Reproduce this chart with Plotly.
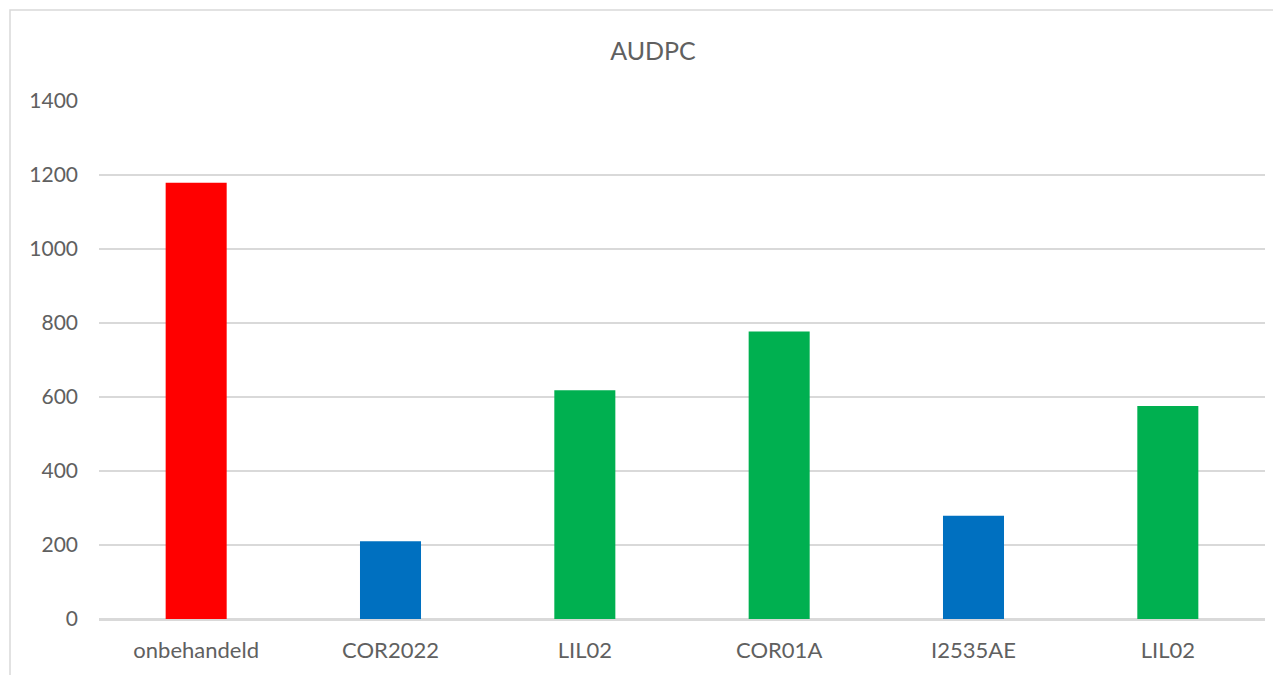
import plotly.graph_objects as go

categories = ["onbehandeld", "COR2022", "LIL02", "COR01A", "I2535AE", "LIL02"]
audpc_values = [1179, 210, 618, 777, 279, 576]
y_tick_values = [0, 200, 400, 600, 800, 1000, 1200, 1400]

bar_colors = ["#FF0000", "#0070C0", "#00B050", "#00B050", "#0070C0", "#00B050"]

positions = list(range(len(categories)))

# The page body adds an 8px offset; compensate so the picture lines up.
OFF = 8
W, H = 1281, 675
plot_left, plot_right = 99 - OFF, 1265 - OFF
plot_top, plot_bottom = 101 - OFF, 619.5 - OFF

fig = go.Figure(
    go.Bar(
        x=positions,
        y=audpc_values,
        marker=dict(color=bar_colors, line=dict(width=0)),
        hoverinfo="x+y",
    )
)

text_color = "#606060"
grid_color = "#D9D9D9"

plot_w = plot_right - plot_left
plot_h = plot_bottom - plot_top

fig.update_layout(
    width=W,
    height=H,
    paper_bgcolor="white",
    plot_bgcolor="white",
    margin=dict(l=plot_left, r=W - plot_right, t=plot_top, b=H - plot_bottom, pad=0),
    bargap=0.686,
    showlegend=False,
    font=dict(family="Lato", color=text_color, size=21),
    title=dict(
        text="AUDPC",
        x=(653 - OFF) / W,
        xanchor="center",
        y=1 - (51 - OFF) / H,
        yanchor="middle",
        font=dict(family="Lato", size=25, color=text_color),
    ),
    xaxis=dict(
        range=[-0.5, len(categories) - 0.5],
        tickmode="array",
        tickvals=positions,
        ticktext=categories,
        showgrid=False,
        zeroline=False,
        showline=True,
        linecolor=grid_color,
        linewidth=1.5,
        ticks="",
        ticklabelstandoff=11,
        tickfont=dict(family="Lato", size=22, color=text_color),
        fixedrange=True,
    ),
    yaxis=dict(
        range=[0, 1400],
        tickmode="array",
        tickvals=y_tick_values,
        ticktext=[str(v) for v in y_tick_values],
        showgrid=True,
        gridcolor=grid_color,
        gridwidth=1.5,
        zeroline=True,
        zerolinecolor=grid_color,
        zerolinewidth=1.5,
        showline=False,
        ticks="",
        ticklabelstandoff=20,
        tickfont=dict(family="Lato", size=21, color=text_color),
        fixedrange=True,
    ),
    shapes=[
        dict(
            type="rect",
            xref="paper",
            yref="paper",
            x0=(10 - 99) / plot_w,
            x1=1.2,
            y0=-0.3,
            y1=(plot_bottom - (10 - OFF)) / plot_h,
            line=dict(color=grid_color, width=1.5),
            fillcolor="rgba(0,0,0,0)",
            layer="below",
        )
    ],
)

fig.write_html("out.html")
